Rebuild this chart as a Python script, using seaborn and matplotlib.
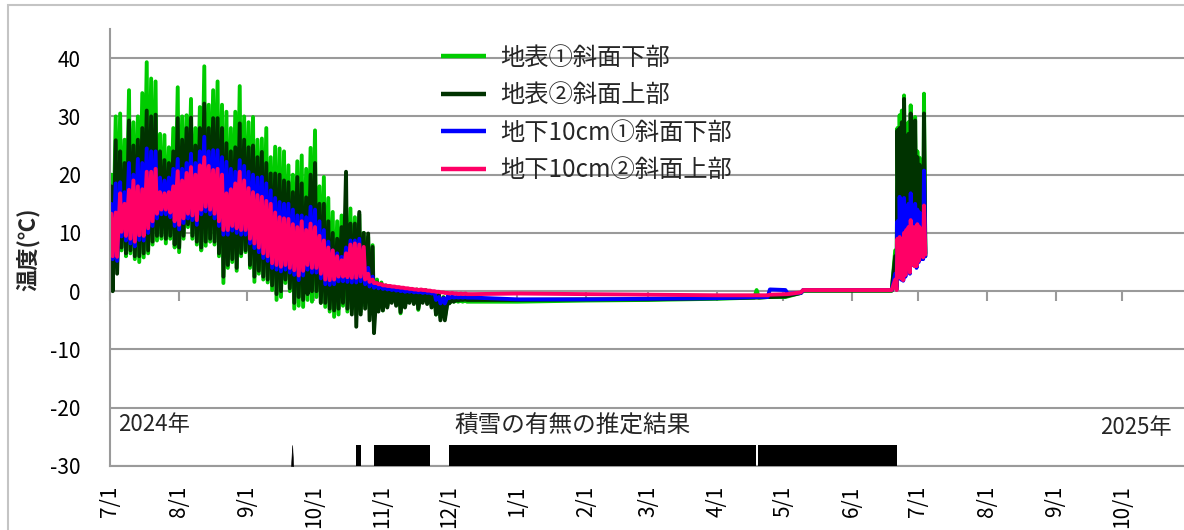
import numpy as np
import pandas as pd
import matplotlib
matplotlib.use("Agg")
import matplotlib.pyplot as plt
import matplotlib.dates as mdates
import matplotlib.transforms as mtransforms
from matplotlib.lines import Line2D
from matplotlib.patches import Rectangle
import seaborn as sns

# ---- series ----------------------------------------------------------------
series_names = ["地表①斜面下部", "地表②斜面上部", "地下10cm①斜面下部", "地下10cm②斜面上部"]
series_colors = ["#00CC00", "#003300", "#0000FF", "#FF0066"]

# Two-day maximum / minimum readings from 2024-07-01 (81 steps, to 2024-12-09)
autumn_start = "2024-07-01"
surf1_hi = [20, 30, 30.5, 26, 34.5, 29, 30, 34, 39.3, 36.5,
            36, 27, 26.8, 24.7, 28, 35, 30, 30.2, 33, 28,
            31.6, 38.6, 32, 34.5, 36, 32, 30.8, 28, 30.8, 35.2,
            30, 29, 29.9, 26, 26.2, 28, 23, 24.8, 24.5, 24,
            21.6, 20, 22.3, 23.3, 21, 24.6, 27.6, 18, 19.6, 16,
            13.6, 12, 13, 14.5, 14.2, 12.7, 13.2, 10, 9.3, 7.9,
            2, 1.5, 1, 0.8, 0.6, 0.5, 0.4, 0.4, 0.3, 0.3,
            0.2, 0.2, 0, -0.2, -0.5, -1, -1.5, -1.6, -1.6, -1.6,
            -1.6]
surf1_lo = [2.7, 5, 7, 6, 6.5, 5.5, 5, 5.8, 6.5, 8,
            8.7, 9, 8.2, 9, 7.5, 6.7, 9, 11, 9, 8,
            7, 7.8, 8.5, 8, 6, 1.4, 4, 5, 3.5, 6,
            6.7, 4, 1.6, 3, 2, 1.5, 0.2, -1.5, -1, 1.4,
            0, -3, -2.5, -2.7, -1.5, -1.8, -1, -2, -2.7, -3.5,
            -4.4, -4, -2.5, -3.5, -3, -4, -3.5, -2.5, -3, -4,
            -3, -3.3, -2.5, -1.8, -2.2, -3.8, -2.5, -1.5, -2, -3.2,
            -1.5, -2, -2.5, -4, -4.5, -4.5, -2, -1.8, -1.8, -1.8,
            -1.8]
surf2_hi = [18, 25.9, 24, 22, 29.3, 25, 26, 28, 31, 30,
            30.3, 24, 22.5, 22, 24, 29.7, 26, 28, 29.8, 25,
            28, 32.2, 28, 29.7, 29.7, 28, 25.4, 24, 24.7, 28.8,
            26, 24.7, 25, 23, 23.9, 22, 20.2, 20.2, 20, 19,
            18.7, 17, 19.6, 18.5, 16.1, 20, 22, 15, 15, 12,
            10, 9, 11, 20.5, 11.6, 11.6, 13.6, 10, 9.9, 7.6,
            1.5, 1.2, 0.8, 0.6, 0.5, 0.4, 0.3, 0.3, 0.2, 0.2,
            0.1, 0.1, -0.1, -0.3, -0.6, -1.1, -1.4, -1.4, -1.4, -1.4,
            -1.4]
surf2_lo = [0, 3, 7.5, 6.5, 7, 6, 6, 6.5, 7, 8.5,
            9.5, 9.5, 9, 9.5, 8, 7.5, 9.5, 11.5, 9.5, 8.5,
            7.5, 8.5, 9, 8.5, 6.5, 2.5, 4.5, 5.5, 4, 6.5,
            7, 4.5, 2.5, 3.5, 2.5, 2, 1, -0.5, 0, 2,
            0.5, -2, -1, -1.5, -0.5, 0, 0, -2, -2, -3,
            -3.3, -3, -2, -3, -4, -6.1, -4, -3, -5, -7.2,
            -3.5, -3.3, -2.8, -2, -2.5, -3.6, -2.8, -2, -2.2, -3,
            -2, -2.2, -2.8, -4, -5, -5, -2.1, -1.8, -1.6, -1.5,
            -1.5]
soil1_hi = [15, 18.5, 18.7, 17, 22, 20, 22.7, 22, 24.5, 24,
            24, 19.5, 19, 19.5, 21, 22.7, 21, 22, 23.6, 22,
            24, 26.5, 24, 24.2, 24.2, 23, 22.2, 21, 20.5, 22.5,
            21.5, 20.5, 20, 19.5, 19.6, 18.5, 17.3, 16, 15.3, 15,
            15, 14, 13, 13, 12.7, 14.5, 14, 12, 10.5, 8.5,
            7, 6.5, 5.9, 7.5, 8.7, 8.7, 9, 7, 4, 2.5,
            1.3, 0.9, 0.6, 0.5, 0.4, 0.3, 0.2, 0.1, 0.1, 0,
            -0.1, -0.1, -0.2, -0.3, -1.0, -1.2, -0.8, -0.9, -1.0, -1.0,
            -1.0]
soil1_lo = [5.5, 5.2, 9.4, 8.7, 8.2, 7.7, 8.8, 8.7, 10, 11.2,
            12.5, 13.2, 13.2, 12.7, 11.2, 10.6, 11.7, 12.5, 12.2, 11.4,
            13.2, 13.7, 13.2, 12.5, 11.2, 9.7, 9.7, 10.4, 10, 9.7,
            9.7, 8.2, 7.4, 6.7, 5.7, 5.2, 4, 3.7, 3.4, 3.7,
            3.2, 2.8, 1.9, 2.7, 3.7, 3.2, 3.2, 2.2, 1.2, 1.1,
            1.2, 1.7, 1.7, 1.6, 1.5, 1.5, 1.7, 1.2, 0.8, 0.6,
            0.5, 0.4, 0.3, 0.2, 0.1, 0, -0.1, -0.1, -0.2, -0.2,
            -0.3, -0.3, -0.4, -1.5, -2.1, -2.1, -1.2, -1.1, -1.1, -1.1,
            -1.1]
soil2_hi = [13.3, 13.5, 16.8, 15, 17.4, 19, 18, 17.5, 20.5, 20.5,
            21, 17, 16.8, 17, 18, 20.6, 19, 20.3, 21.3, 20,
            21.6, 23, 21.5, 20.8, 21, 20, 16.8, 17.5, 18.5, 20.5,
            19, 17.7, 17, 16.5, 16.2, 15.5, 15, 13.5, 12.7, 12.5,
            12.4, 11.5, 11, 12, 10.5, 11.6, 11, 9.5, 8.7, 7.5,
            7, 6, 5.3, 6.5, 8, 8.2, 8, 7.6, 3, 2,
            1.4, 1.2, 1.0, 0.9, 0.8, 0.7, 0.6, 0.5, 0.4, 0.3,
            0.3, 0.2, 0.1, 0, -0.1, -0.2, -0.3, -0.3, -0.4, -0.4,
            -0.4]
soil2_lo = [6, 5.9, 10.2, 9.5, 9, 8.5, 9.6, 9.5, 10.8, 12,
            13.3, 14, 14, 13.5, 12, 11.4, 12.5, 13.3, 13, 12.2,
            14, 14.5, 14, 13.3, 12, 10.5, 10.5, 11.2, 10.8, 10.5,
            10.5, 9, 8.2, 7.5, 6.5, 6, 4.8, 4.5, 4.2, 4.5,
            4, 3.6, 2.7, 3.5, 4.5, 4, 4, 3, 2, 1.9,
            2, 2.5, 2.5, 2.4, 2.3, 2.3, 2.5, 2, 1.6, 1.4,
            1.2, 1.0, 0.9, 0.8, 0.7, 0.6, 0.5, 0.4, 0.3, 0.2,
            0.2, 0.1, 0, -0.1, -0.2, -0.3, -0.4, -0.4, -0.5, -0.5,
            -0.5]

# Readings under the snow cover
winter_dates = ["2024-12-12", "2025-01-01", "2025-02-01", "2025-03-01", "2025-04-01",
                "2025-04-18", "2025-04-19", "2025-04-20", "2025-04-24", "2025-04-25",
                "2025-05-02", "2025-05-03", "2025-05-09", "2025-05-10", "2025-06-01",
                "2025-06-19"]
surf1_winter = [-1.8, -1.8, -1.6, -1.5, -1.3, -1.1, 0.2, -1.1, -1.0, -1.0,
                -1.0, -0.9, -0.3, 0.1, 0.1, 0.1]
surf2_winter = [-1.5, -1.5, -1.4, -1.4, -1.2, -1.1, -1.1, -1.1, -1.0, -1.0,
                -0.9, -0.8, -0.3, 0.1, 0.1, 0.1]
soil1_winter = [-1.1, -1.4, -1.4, -1.3, -1.2, -1.0, -1.0, -1.0, -1.0, 0.3,
                0.2, -0.4, -0.3, 0.2, 0.2, 0.2]
soil2_winter = [-0.5, -0.4, -0.5, -0.6, -0.7, -0.7, -0.7, -0.7, -0.7, -0.6,
                -0.5, -0.5, -0.2, 0.2, 0.2, 0.2]

# Daily maximum / minimum after the snow melted (2025-06-20 .. 2025-07-03)
melt_start = "2025-06-20"
surf1_melt_hi = [7, 28, 30.2, 31, 33.6, 27, 29, 31.9, 26, 29.9, 24, 22.9, 20.6, 33.9]
surf1_melt_lo = [0.5, 4, 5, 3, 4, 5, 3.5, 5.5, 6, 4.5, 6, 7, 6.5, 6]
surf2_melt_hi = [6, 27.6, 28, 29, 33, 26, 27, 30.5, 26, 29.3, 23, 21.7, 19.5, 30.5]
surf2_melt_lo = [0.5, 4.5, 5, 3.5, 4.5, 5, 4, 6, 6.5, 5, 6.5, 7.5, 7, 6.5]
soil1_melt_hi = [3, 12, 16.2, 15, 16, 14, 15, 16.8, 14, 15, 14, 13.5, 13, 20.7]
soil1_melt_lo = [0.3, 2.3, 2, 1.8, 2.5, 3.5, 3, 4.5, 4.5, 4, 5, 5.5, 5.5, 6]
soil2_melt_hi = [2, 9, 9.3, 9, 10, 10.5, 11, 12.2, 11, 11, 11.5, 11, 10.5, 14.7]
soil2_melt_lo = [0.2, 2.5, 2.2, 1.9, 2.8, 3.8, 3.2, 4.8, 4.3, 4.3, 5.2, 6, 5.8, 6.3]

# Estimated snow cover periods
snow_on = ["2024-10-20 00:00", "2024-10-28 03:00", "2024-11-30 22:00", "2025-04-19 16:00"]
snow_off = ["2024-10-22 03:00", "2024-11-22 17:00", "2025-04-18 18:00", "2025-06-21 10:00"]
snow_single = "2024-09-21 06:00"

month_ticks = pd.date_range("2024-07-01", "2025-10-01", freq="MS")
month_labels = [f"{d.month}/{d.day}" for d in month_ticks]
y_ticks = [-30, -20, -10, 0, 10, 20, 30, 40]

# ---- assemble long-form table -------------------------------------------------
def zigzag(start, hi, lo, step_days):
    base = pd.Timestamp(start) + pd.to_timedelta(np.arange(len(hi)) * step_days, unit="D")
    t = np.empty(2 * len(hi), dtype="datetime64[ns]")
    t[0::2] = (base + pd.Timedelta(hours=14)).values
    t[1::2] = (base + pd.Timedelta(hours=29)).values
    v = np.empty(2 * len(hi))
    v[0::2] = hi
    v[1::2] = lo
    return t, v

autumn = [(surf1_hi, surf1_lo), (surf2_hi, surf2_lo), (soil1_hi, soil1_lo), (soil2_hi, soil2_lo)]
winter = [surf1_winter, surf2_winter, soil1_winter, soil2_winter]
melt = [(surf1_melt_hi, surf1_melt_lo), (surf2_melt_hi, surf2_melt_lo),
        (soil1_melt_hi, soil1_melt_lo), (soil2_melt_hi, soil2_melt_lo)]

frames = []
for name, (a_hi, a_lo), w_vals, (m_hi, m_lo) in zip(series_names, autumn, winter, melt):
    t1, v1 = zigzag(autumn_start, a_hi, a_lo, 2)
    t2 = pd.to_datetime(winter_dates).values
    v2 = np.asarray(w_vals, dtype=float)
    t3, v3 = zigzag(melt_start, m_hi, m_lo, 1)
    frames.append(pd.DataFrame({"time": np.concatenate([t1, t2, t3]),
                                "temp": np.concatenate([v1, v2, v3]),
                                "series": name}))
df = pd.concat(frames, ignore_index=True)

# ---- figure -----------------------------------------------------------------
sns.set_style("white")
plt.rcParams["font.family"] = ["Noto Sans CJK JP", "DejaVu Sans"]
plt.rcParams["axes.unicode_minus"] = False

W, H = 1184, 530
fig = plt.figure(figsize=(W / 100, H / 100), dpi=100)
ax = fig.add_axes([110 / W, 1 - 466 / H, 1 - 110 / W, (466 - 29) / H])

grid_col = "#9A9A9A"

sns.lineplot(data=df, x="time", y="temp", hue="series", hue_order=series_names,
             palette=series_colors, estimator=None, linewidth=2.8, ax=ax, legend=False)
for ln in ax.lines:
    ln.set_solid_joinstyle("round")
    ln.set_solid_capstyle("round")

# snow cover band at the bottom of the plot
band_lo, band_hi = -30, -26.4
for s, e in zip(snow_on, snow_off):
    ax.fill_between([pd.Timestamp(s), pd.Timestamp(e)], band_lo, band_hi,
                    color="black", linewidth=0, zorder=3)
sd = pd.Timestamp(snow_single)
ax.fill_between([sd - pd.Timedelta(hours=12), sd, sd + pd.Timedelta(hours=12)],
                band_lo, [band_lo, band_hi, band_lo], color="black", linewidth=0.4, zorder=3)

ax.set_ylim(-30, 45)
ax.set_yticks(y_ticks)
ax.set_xlim(pd.Timestamp("2024-07-01"), pd.Timestamp("2025-10-29"))
ax.set_xticks(month_ticks)
ax.set_xticklabels(month_labels, rotation=90, va="top", ha="center")
ax.set_xlabel("")
ax.set_ylabel("")
ax.tick_params(axis="x", length=0, pad=14, labelsize=15, colors="black")
ax.tick_params(axis="y", length=7, width=1.5, color=grid_col, pad=14, labelsize=15,
               labelcolor="black")
ax.grid(axis="y", color=grid_col, linewidth=1.5)
ax.grid(axis="x", visible=False)
for side in ("top", "right"):
    ax.spines[side].set_visible(False)
for side in ("left", "bottom"):
    ax.spines[side].set_color(grid_col)
    ax.spines[side].set_linewidth(1.5)

# month tick marks on the 0 ℃ line
sec = ax.secondary_xaxis((0 - (-30)) / (45 - (-30)))
sec.set_xticks(mdates.date2num(month_ticks))
sec.tick_params(axis="x", length=7, width=1.5, color=grid_col, labelbottom=False,
                labeltop=False, direction="out")
for sp in sec.spines.values():
    sp.set_visible(False)

blend = mtransforms.blended_transform_factory(ax.transAxes, ax.transData)
ax.text(8 / 1074, -22.8, "2024年", transform=blend, fontsize=16, ha="left", va="center")
ax.text(463 / 1074, -23.0, "積雪の有無の推定結果", transform=blend, fontsize=17,
        ha="center", va="center")
ax.text(1062 / 1074, -23.4, "2025年", transform=blend, fontsize=16, ha="right", va="center")

fig.text(28 / W, 1 - 249 / H, "温度(℃)", rotation=90, fontsize=16, fontweight="bold",
         ha="center", va="center")

handles = [Line2D([], [], color=c, linewidth=3.2, solid_capstyle="butt") for c in series_colors]
ax.legend(handles, series_names, loc="upper left", bbox_to_anchor=(441 / W, 1 - 45 / H),
          bbox_transform=fig.transFigure, frameon=False, fontsize=17.5, handlelength=1.85,
          handletextpad=0.6, labelspacing=0.47, borderpad=0, borderaxespad=0)

fig.add_artist(Rectangle((8 / W, -0.5), 2, 1.5 - 5 / H, transform=fig.transFigure,
                         fill=False, edgecolor="#C4C4C4", linewidth=1.5))

fig.savefig("out.png", dpi=100)
